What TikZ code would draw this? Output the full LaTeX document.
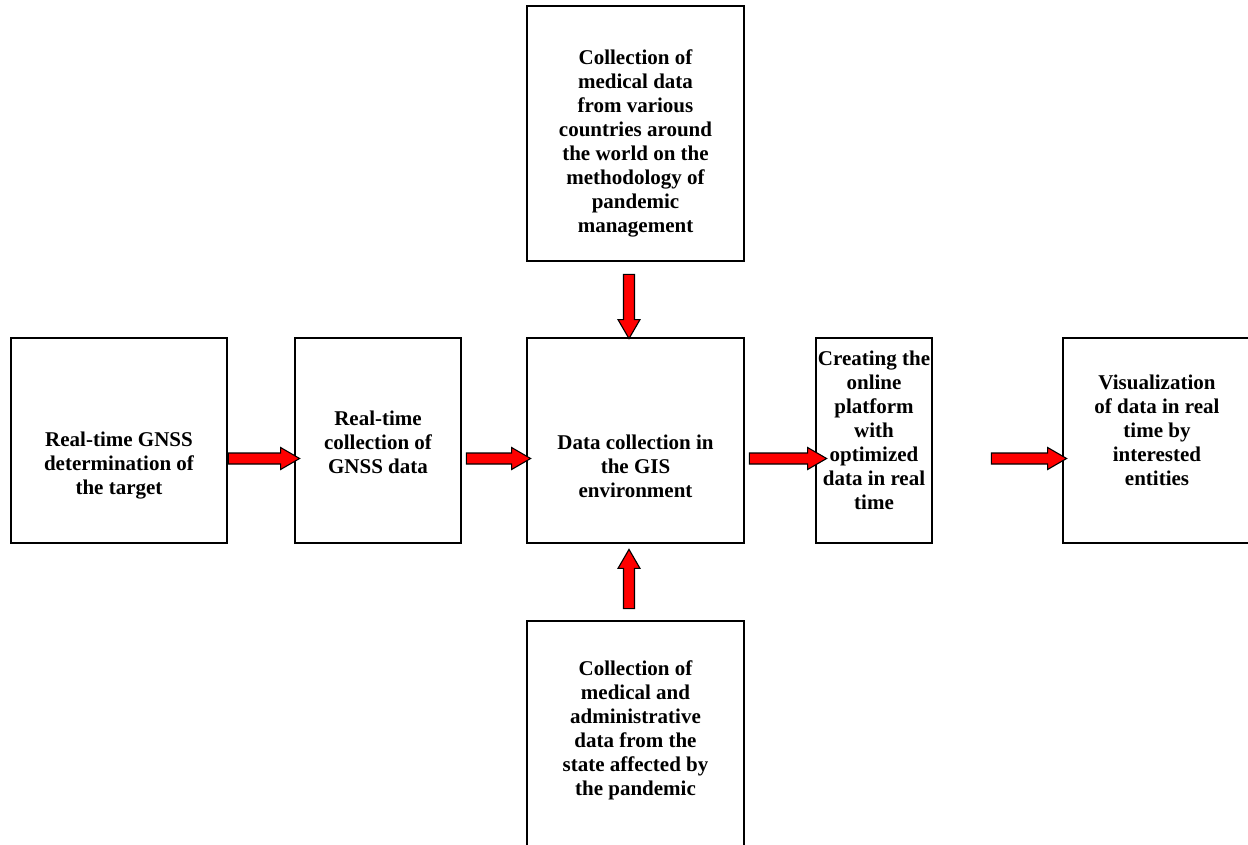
\documentclass[tikz,border=0pt]{standalone}
\usepackage{fontspec}
\setmainfont{Liberation Serif}
\usetikzlibrary{calc}
\tikzset{
  box/.style={draw=black, line width=2.8pt, fill=none, inner sep=0pt},
  txt/.style={align=center, inner sep=0pt, font=\bfseries\fontsize{21}{24}\selectfont},
  arrowst/.style={draw=black, line width=1.1pt, fill=red, line join=miter}
}
\newcommand\blockarr[2]{%
  \coordinate (hb) at ($(#2)!19pt!(#1)$);
  \draw[arrowst] ($(#1)!5.5pt!90:(#2)$) -- ($(hb)!5.5pt!-90:(#1)$) -- ($(hb)!11pt!-90:(#1)$) -- (#2)
    -- ($(hb)!11pt!90:(#1)$) -- ($(hb)!5.5pt!90:(#1)$) -- ($(#1)!5.5pt!-90:(#2)$) -- cycle;
}
\begin{document}
\begin{tikzpicture}[x=1pt, y=-1pt]
\useasboundingbox (0,0) rectangle (1248,845);
\clip (0,0) rectangle (1248,845);
% boxes
\node[box, minimum width=216pt, minimum height=205pt] (b1) at (119,440.5) {};
\node[box, minimum width=166pt, minimum height=205pt] (b2) at (378,440.5) {};
\node[box, minimum width=217pt, minimum height=205pt] (b3) at (635.5,440.5) {};
\node[box, minimum width=116pt, minimum height=205pt] (b4) at (874,440.5) {};
\node[box, minimum width=199pt, minimum height=205pt] (b5) at (1162.5,440.5) {};
\node[box, minimum width=217pt, minimum height=255pt] (top) at (635.5,133.5) {};
\node[box, minimum width=217pt, minimum height=249pt] (bot) at (635.5,745.5) {};
% texts
\node[txt] (t1) at (119,466) {Real-time GNSS\\determination of\\the target};
\node[txt] (t2) at (378,442) {Real-time\\collection of\\GNSS data};
\node[txt] (t3) at (635.5,466) {Data collection in\\the GIS\\environment};
\node[txt] (t4) at (874,430) {Creating the\\online\\platform\\with\\optimized\\data in real\\time};
\node[txt] (t5) at (1157,430) {Visualization\\of data in real\\time by\\interested\\entities};
\node[txt] (tt) at (635.5,143) {Collection of\\medical data\\from various\\countries around\\the world on the\\methodology of\\pandemic\\management};
\node[txt] (tb) at (635.5,730) {Collection of\\medical and\\administrative\\data from the\\state affected by\\the pandemic};
% arrow end points
\coordinate (a1s) at ($(b1.east)+(0,18)$);
\coordinate (a1e) at ($(b2.west)+(6,18)$);
\coordinate (a2s) at ($(b2.east)+(4,18)$);
\coordinate (a2e) at ($(b3.west)+(5,18)$);
\coordinate (a3s) at ($(b3.east)+(4,18)$);
\coordinate (a3e) at ($(b4.west)+(12,18)$);
\coordinate (a4s) at ($(b4.east)+(58,18)$);
\coordinate (a4e) at ($(b5.west)+(5,18)$);
\coordinate (ds) at ($(top.south)+(-6.5,12)$);
\coordinate (de) at ($(b3.north)+(-6.5,2)$);
\coordinate (us) at ($(bot.north)+(-6.5,-11)$);
\coordinate (ue) at ($(b3.south)+(-6.5,5)$);
\blockarr{a1s}{a1e}
\blockarr{a2s}{a2e}
\blockarr{a3s}{a3e}
\blockarr{a4s}{a4e}
\blockarr{ds}{de}
\blockarr{us}{ue}
\end{tikzpicture}
\end{document}
